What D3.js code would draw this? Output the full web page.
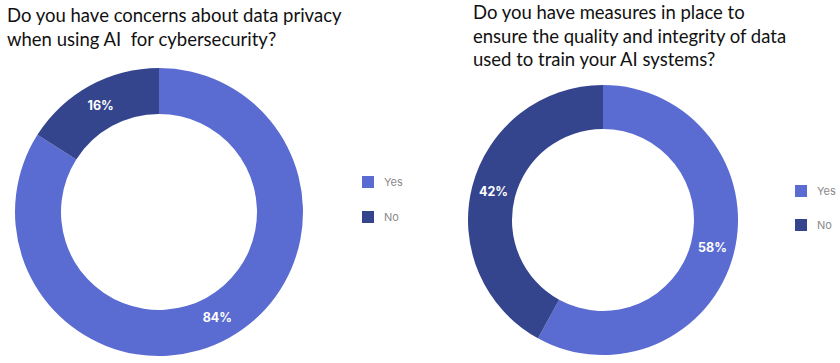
<!DOCTYPE html>
<html>
<head>
<meta charset="utf-8">
<script src="https://cdn.jsdelivr.net/npm/d3@7"></script>
<style>
  body { margin: 0; background: #fff; }
  svg { display: block; }
</style>
</head>
<body>
<div id="chart"></div>
<script>
// categories and values
const categories = ['Yes', 'No'];
const privacyValues = [84, 16];
const qualityValues = [58, 42];
const privacyTitle = ['Do you have concerns about data privacy', 'when using AI  for cybersecurity?'];
const qualityTitle = ['Do you have measures in place to', 'ensure the quality and integrity of data', 'used to train your AI systems?'];

const W = 840, H = 363;
const color = d3.scaleOrdinal().domain(categories).range(['#5a6bd1', '#34458e']);

const svg = d3.select('#chart').append('svg').attr('width', W).attr('height', H);

// one donut panel: title, ring, labels and legend
const drawDonut = (cfg) => {
  const g = svg.append('g');

  g.append('text')
    .attr('x', cfg.titleX)
    .attr('y', cfg.titleY)
    .style('font-family', 'Lato, "Open Sans", sans-serif')
    .style('font-size', '18.5px')
    .style('white-space', 'pre')
    .style('fill', '#111')
    .selectAll('tspan')
    .data(cfg.title)
    .join('tspan')
    .attr('x', cfg.titleX)
    .attr('dy', (d, i) => (i === 0 ? 0 : cfg.lineH))
    .text((d) => d);

  const data = categories.map((c, i) => ({ name: c, value: cfg.values[i] }));
  const pie = d3.pie().sort(null).value((d) => d.value);
  const arc = d3.arc().innerRadius(cfg.inner).outerRadius(cfg.outer);
  const mid = (cfg.inner + cfg.outer) / 2;
  const labelArc = d3.arc().innerRadius(mid).outerRadius(mid);

  const ring = g.append('g').attr('transform', `translate(${cfg.cx},${cfg.cy})`);
  const arcs = pie(data);

  ring.selectAll('path')
    .data(arcs)
    .join('path')
    .attr('d', arc)
    .style('fill', (d) => color(d.data.name));

  ring.selectAll('text')
    .data(arcs)
    .join('text')
    .attr('transform', (d) => `translate(${labelArc.centroid(d)})`)
    .attr('text-anchor', 'middle')
    .attr('dy', '0.35em')
    .style('font-family', 'Inter, "Open Sans", sans-serif')
    .style('font-weight', 'bold')
    .style('font-size', '12.5px')
    .style('fill', '#fff')
    .text((d) => `${d.data.value}%`);

  const legend = g.append('g').attr('transform', `translate(${cfg.legX},${cfg.legY})`);
  const item = legend.selectAll('g')
    .data(categories)
    .join('g')
    .attr('transform', (d, i) => `translate(0,${i * cfg.legGap})`);
  item.append('rect')
    .attr('x', 0).attr('y', -6)
    .attr('width', 12).attr('height', 12)
    .style('fill', (d) => color(d));
  item.append('text')
    .attr('x', 22)
    .attr('dy', '0.35em')
    .style('font-family', 'Inter, "Open Sans", sans-serif')
    .style('font-size', '11px')
    .style('fill', '#8a8a8a')
    .text((d) => d);
};

drawDonut({
  title: privacyTitle, titleX: 7, titleY: 22, lineH: 24,
  values: privacyValues, cx: 159, cy: 212, inner: 98, outer: 144,
  legX: 362, legY: 182, legGap: 35,
});

drawDonut({
  title: qualityTitle, titleX: 473, titleY: 19, lineH: 23.5,
  values: qualityValues, cx: 603, cy: 220, inner: 91, outer: 135,
  legX: 795, legY: 191, legGap: 34,
});
</script>
</body>
</html>
